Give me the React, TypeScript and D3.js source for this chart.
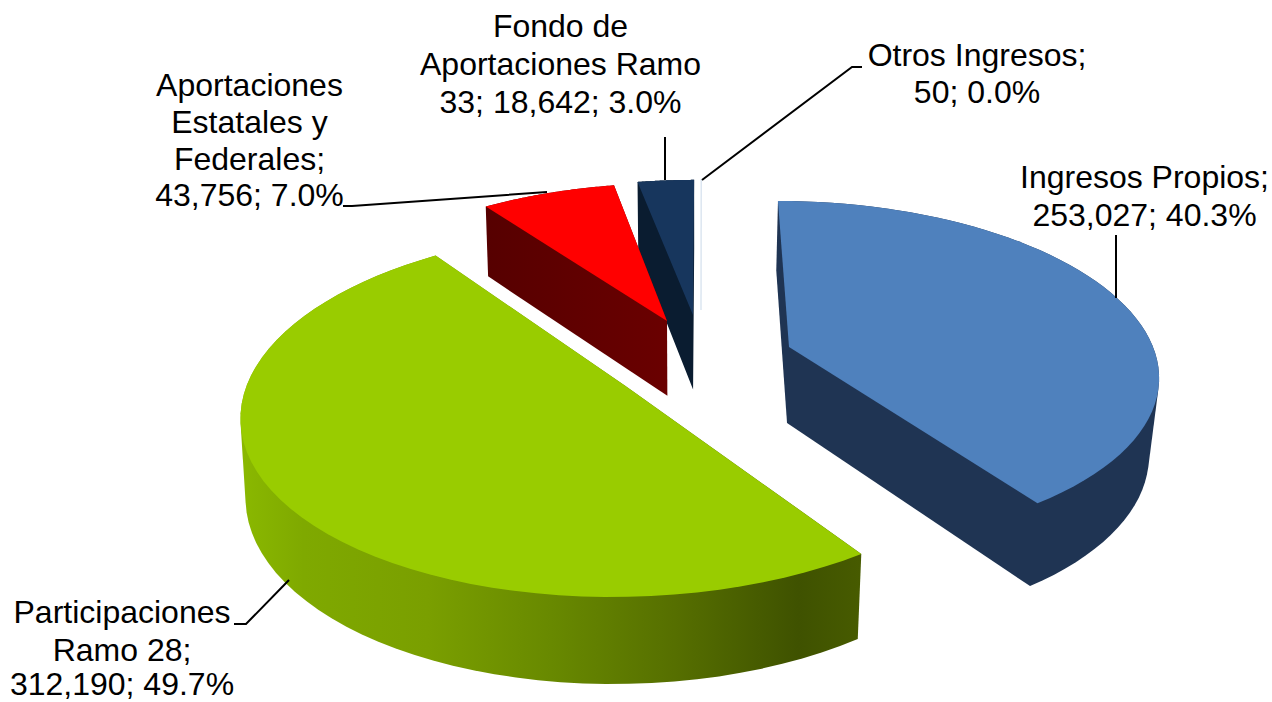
import React from "react";
import * as d3 from "d3";

const categories = ["Ingresos Propios", "Participaciones Ramo 28", "Aportaciones Estatales y Federales", "Fondo de Aportaciones Ramo 33", "Otros Ingresos"];
const values = [253027, 312190, 43756, 18642, 50];
const topColors = ["#4F81BD", "#99CC00", "#FF0000", "#17365D", "#DCE6F1"];
const sideColors = ["#1F3453", "url(#greenSide)", "url(#redSide)", "#0A1C30", "#FFFFFF"];
const labelLines = [
  ["Ingresos Propios;", "253,027; 40.3%"],
  ["Participaciones", "Ramo 28;", "312,190; 49.7%"],
  ["Aportaciones", "Estatales y", "Federales;", "43,756; 7.0%"],
  ["Fondo de", "Aportaciones Ramo", "33; 18,642; 3.0%"],
  ["Otros Ingresos;", "50; 0.0%"],
];

// camera-like fit: apex on screen, horizontal / vertical radius per exploded slice
const sliceGeom = [
  { ax: 789, ay: 347, R: 364, Q: 167.5 },
  { ax: 625.5, ay: 386, R: 379, Q: 180 },
  { ax: 667, ay: 321, R: 354, Q: 158 },
  { ax: 693, ay: 315, R: 349, Q: 155 },
  { ax: 701, ay: 310, R: 349, Q: 150 },
];
const labelPos = [
  { x: 1144.5, y: [188, 226] },
  { x: 122, y: [623, 661, 695] },
  { x: 249.5, y: [96, 133, 170, 206] },
  { x: 560.5, y: [37, 75, 113] },
  { x: 977, y: [66, 103] },
];
const leaders: [number, number][][] = [
  [[1116, 235], [1116, 298]],
  [[234, 624], [246, 624], [289, 580]],
  [[343, 206], [352, 206], [547, 192]],
  [[665, 137], [665, 180]],
  [[862, 67], [852, 67], [702, 180]],
];

const K = 0.147;
const VX = 703;
const heightScale = d3.scaleLinear().domain([347, 552]).range([76, 85]);
const line = d3.line<[number, number]>();
const pie = d3.pie<number>().sort(null).startAngle(0).endAngle(2 * Math.PI);
const arcs = pie(values);

function project(i: number, t: number): [number, number] {
  const g = sliceGeom[i];
  const u = Math.sin(t);
  const v = Math.cos(t);
  const w = 1 + K * v;
  const S = -K * (g.ax - VX);
  return [g.ax + (g.R * u + S * v) / w, g.ay - (g.Q * v) / w];
}
const extrude = (p: [number, number]): [number, number] => [
  p[0] + (700 - p[0]) * (p[0] < 700 ? 0.011 : 0.022),
  p[1] + heightScale(p[1]),
];

function outline(i: number): [number, number][] {
  const a = arcs[i];
  const g = sliceGeom[i];
  const ts = d3.range(0, 61).map((k) => a.startAngle + ((a.endAngle - a.startAngle) * k) / 60);
  return [[g.ax, g.ay] as [number, number], ...ts.map((t) => project(i, t))];
}

const drawOrder = [1, 0, 3, 2];

export default function App() {
  return (
    <svg width={1272} height={702} style={{ position: "absolute", left: 0, top: 0 }} fontFamily="'Liberation Sans', Arial, sans-serif">
      <defs>
        <linearGradient id="greenSide" gradientUnits="userSpaceOnUse" x1={242} x2={860} y1={0} y2={0}>
          <stop offset="0" stopColor="#8AB800" />
          <stop offset="0.1" stopColor="#7FA900" />
          <stop offset="0.3" stopColor="#7A9F00" />
          <stop offset="0.5" stopColor="#688900" />
          <stop offset="0.7" stopColor="#566F00" />
          <stop offset="0.9" stopColor="#3F5200" />
          <stop offset="1" stopColor="#475B00" />
        </linearGradient>
        <linearGradient id="redSide" gradientUnits="userSpaceOnUse" x1={485} x2={667} y1={0} y2={0}>
          <stop offset="0" stopColor="#560000" />
          <stop offset="1" stopColor="#6A0000" />
        </linearGradient>
      </defs>
      {drawOrder.map((i) => {
        const top = outline(i);
        const hull = d3.polygonHull([...top, ...top.map(extrude)]) as [number, number][];
        return (
          <g key={categories[i]}>
            <path d={line(hull) + "Z"} fill={sideColors[i]} />
            <path d={line(top) + "Z"} fill={topColors[i]} />
          </g>
        );
      })}
      <path d={line([[sliceGeom[4].ax, sliceGeom[4].ay], project(4, 0)])!} stroke={topColors[4]} strokeWidth={1.5} fill="none" />
      {leaders.map((l, i) => (
        <path key={i} d={line(l)!} fill="none" stroke="#000" strokeWidth={2} />
      ))}
      {labelLines.map((ls, i) => (
        <text key={i} textAnchor="middle" fontSize={32} fill="#000">
          {ls.map((s, j) => (
            <tspan key={j} x={labelPos[i].x} y={labelPos[i].y[j]}>{s}</tspan>
          ))}
        </text>
      ))}
    </svg>
  );
}
